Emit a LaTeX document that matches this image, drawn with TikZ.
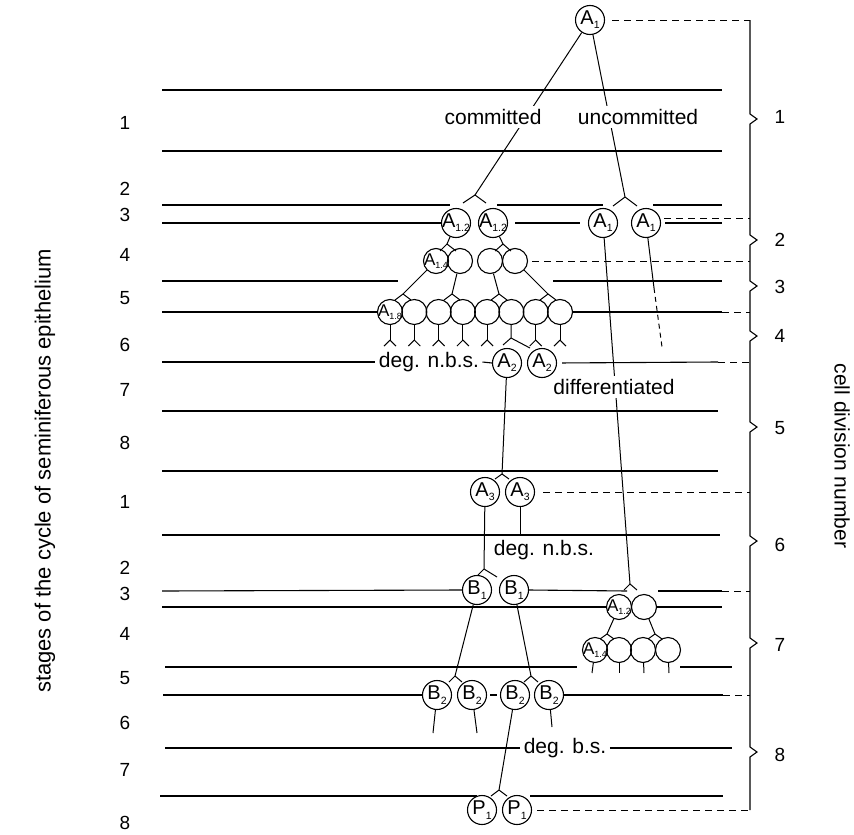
\documentclass[tikz,border=0pt]{standalone}
\usepackage{fontspec}
\setmainfont{Liberation Sans}
\newcommand\cn[2]{\makebox[0pt]{#1\raisebox{-0.4ex}{\fontsize{10.5}{10.5}\selectfont #2}}}
\newcommand\scn[2]{\makebox[0pt]{#1\raisebox{-0.4ex}{\fontsize{9}{9}\selectfont #2}}}
\newcommand\forkat[4]{\draw (#1) -- ++(-#2,#4) (#1) -- ++(#3,#4);}
\begin{document}
\begin{tikzpicture}[x=1pt,y=-1pt,line width=1pt,
  cell/.style={circle,draw,line width=1.1pt,minimum size=29pt,inner sep=0pt,font=\fontsize{20}{20}\selectfont},
  scell/.style={circle,draw,line width=1.1pt,minimum size=25pt,inner sep=0pt,font=\fontsize{17}{17}\selectfont},
  dline/.style={dash pattern=on 7pt off 5pt},
  lbl/.style={font=\fontsize{21}{21}\selectfont,inner sep=3pt,fill=white},
  num/.style={font=\fontsize{19}{19}\selectfont,inner sep=0pt},
]
\useasboundingbox (0,0) rectangle (854,835);

% ---------- cells ----------
\node[cell] (a1) at (590,20) {\cn{A}{1}};
\node[cell] (a12a) at (456,223) {\cn{A}{1.2}};
\node[cell] (a12b) at (493,223) {\cn{A}{1.2}};
\node[cell] (u1) at (603,223) {\cn{A}{1}};
\node[cell] (u2) at (646,223) {\cn{A}{1}};
\node[scell] (c41) at (436,261) {\scn{A}{1.4}};
\node[scell] (c42) at (460,261) {};
\node[scell] (c43) at (490,261) {};
\node[scell] (c44) at (515,261) {};
\node[scell] (c81) at (390,312) {\scn{A}{1.8}};
\foreach \i/\x in {2/414.3,3/438.6,4/462.9,5/487.1,6/511.4,7/535.7,8/560}
  \node[scell] (c8\i) at (\x,312) {};
\node[cell] (a2a) at (507,363) {\cn{A}{2}};
\node[cell] (a2b) at (542,363) {\cn{A}{2}};
\node[cell] (a3a) at (485,492) {\cn{A}{3}};
\node[cell] (a3b) at (520,492) {\cn{A}{3}};
\node[cell] (b1a) at (477,590) {\cn{B}{1}};
\node[cell] (b1b) at (514,590) {\cn{B}{1}};
\node[scell] (d12a) at (619,607) {\scn{A}{1.2}};
\node[scell] (d12b) at (644,607) {};
\node[scell] (d41) at (595,650) {\scn{A}{1.4}};
\node[scell] (d42) at (619,650) {};
\node[scell] (d43) at (643,650) {};
\node[scell] (d44) at (668,650) {};
\node[cell] (b2a) at (437,695) {\cn{B}{2}};
\node[cell] (b2b) at (472,695) {\cn{B}{2}};
\node[cell] (b2c) at (515,695) {\cn{B}{2}};
\node[cell] (b2d) at (549,695) {\cn{B}{2}};
\node[cell] (p1a) at (482,810) {\cn{P}{1}};
\node[cell] (p1b) at (517,810) {\cn{P}{1}};

% inline labels on stage lines
\node[lbl,fill=none] (dnbsa) at (429,362) {deg. n.b.s.};
\node[lbl,fill=none] (dbs) at (565,748) {deg. b.s.};
\node[lbl,fill=none] (dnbsb) at (544,550) {deg. n.b.s.};

% ---------- stage lines ----------
\begin{scope}[line width=1.1pt]
\draw (162,90) -- (722,90);
\draw (162,151) -- (722,151);
\draw (162,205) -- (450,205) (497,205) -- (603,205) (653,205) -- (722,205);
\draw (162,223) -- (a12a.west);
\draw[shorten <=7pt,shorten >=8pt] (a12b) -- (u1);
\draw (665,223) -- (722,223);
\draw (162,281) -- (398,281) (553,281) -- (722,281);
\draw (162,312) -- (c81.west);
\draw (c88.east) -- (722,312);
\draw (162,362) -- (dnbsa.west);
\draw (dnbsa.east) -- (a2a.west);
\draw[shorten <=5pt] (a2b.east) -- (718,362);
\draw (162,411) -- (718,411);
\draw (162,471) -- (718,471);
\draw (162,535) -- (720,535);
\draw (162,591) -- (b1a.west);
\draw (b1b.east) -- (627,591);
\draw (658,591) -- (722,591);
\draw (162,607) -- (d12a.west);
\draw (d12b.east) -- (722,607);
\draw (165,667) -- (577,667) (680,667) -- (732,667);
\draw (163,695) -- (b2a.west);
\draw[shorten <=3pt,shorten >=3pt] (b2b.east) -- (b2c.west);
\draw (b2d.east) -- (723,695);
\draw (165,748) -- (dbs.west);
\draw (dbs.east) -- (732,748);
\draw (160,796) -- (477,796) (530,796) -- (723,796);
\end{scope}

% dashed guides to the bracket
\draw[dline] (612,20) -- (750,20);
\draw[dline] (664,218) -- (750,218);
\draw[dline] (532,261) -- (750,261);
\draw[dline] (722,312) -- (750,312);
\draw[dline] (718,362) -- (750,362);
\draw[dline] (543,492) -- (750,492);
\draw[dline] (722,591) -- (750,591);
\draw[dline] (723,695) -- (750,695);
\draw[dline] (537,810) -- (750,810);

% bracket
\draw[line width=1.1pt,line join=miter] (750,20) -- (750,114) -- (757,119) -- (750,124)
  -- (750,235) -- (757,240) -- (750,245)
  -- (750,281) -- (757,286) -- (750,291)
  -- (750,331) -- (757,336) -- (750,341)
  -- (750,422) -- (757,427) -- (750,432)
  -- (750,536) -- (757,541) -- (750,546)
  -- (750,638) -- (757,643) -- (750,648)
  -- (750,747) -- (757,752) -- (750,757)
  -- (750,810);

% ---------- lineage connectors ----------
\coordinate (f1) at (475,195);
\draw (a1) -- (f1); \forkat{f1}{12}{11}{8}
\coordinate (f2) at (625,197);
\draw (a1) -- (f2); \forkat{f2}{12}{12}{9}
\node[lbl] (tcom) at (493,117) {committed};
\node[lbl] (tunc) at (638,117) {uncommitted};

\coordinate (f3) at (447,244);
\draw (a12a) -- (f3); \forkat{f3}{7}{9}{7}
\coordinate (f4) at (503,244);
\draw (a12b) -- (f4); \forkat{f4}{8}{8}{7}

\coordinate (f5) at (403,294);
\draw (c41) -- (f5); \forkat{f5}{8}{8}{6}
\coordinate (f6) at (452,294);
\draw (c42) -- (f6); \forkat{f6}{8}{8}{6}
\coordinate (f7) at (499,294);
\draw (c43) -- (f7); \forkat{f7}{8}{8}{6}
\coordinate (f8) at (548,294);
\draw (c44) -- (f8); \forkat{f8}{8}{8}{6}

\foreach \i in {1,2,3,4,5,7,8}{
  \path (c8\i.south) ++(0,15) coordinate (g\i);
  \draw (c8\i) -- (g\i); \forkat{g\i}{6}{6}{6}
}
\coordinate (g6) at (511,338);
\draw (c86) -- (g6);
\draw (g6) -- ++(-8,7) (g6) -- ++(19,10);

\coordinate (f9) at (502,474);
\draw (a2a) -- (f9); \forkat{f9}{7}{7}{5}

\coordinate (f10) at (630,584);
\draw (u1) -- (f10); \forkat{f10}{6}{7}{6}
\node[lbl] (tdif) at (614,387) {differentiated};

\coordinate (u2s) at (654,288);
\coordinate (u2e) at (662,347);
\draw (u2) -- (u2s);
\draw[dash pattern=on 5pt off 4pt] (u2s) -- (u2e);

\coordinate (f11) at (484,569);
\draw (a3a) -- (f11);
\draw (f11) -- ++(-6,6) (f11) -- ++(13,8);
\coordinate (a3e) at (520,535);
\draw (a3b) -- (a3e);

\coordinate (f12) at (455,676);
\draw (b1a) -- (f12); \forkat{f12}{6}{7}{6}
\coordinate (f13) at (531,676);
\draw (b1b) -- (f13); \forkat{f13}{7}{7}{6}

\coordinate (e1) at (433,733); \draw (b2a) -- (e1);
\coordinate (e2) at (477,733); \draw (b2b) -- (e2);
\coordinate (e4) at (552,727); \draw (b2d) -- (e4);
\coordinate (f14) at (499,790);
\draw (b2c) -- (f14); \forkat{f14}{8}{8}{6}

\coordinate (f15) at (607,634);
\draw (d12a) -- (f15); \forkat{f15}{7}{7}{5}
\coordinate (f16) at (655,634);
\draw (d12b) -- (f16); \forkat{f16}{7}{7}{5}
\coordinate (t1) at (592,673); \draw (d41) -- (t1);
\coordinate (t2) at (619,673); \draw (d42) -- (t2);
\coordinate (t3) at (644,673); \draw (d43) -- (t3);
\coordinate (t4) at (669,673); \draw (d44) -- (t4);

% ---------- axis labels ----------
\foreach \t/\y in {1/123,2/189,3/215,4/255,5/298,6/345,7/390,8/443,1/502,2/568,3/594,4/634,5/678,6/723,7/770,8/823}
  \node[num] (s\y) at (125,\y) {\t};
\foreach \t/\y in {1/117,2/240,3/287,4/336,5/428,6/545,7/645,8/755}
  \node[num] (r\t) at (780,\y) {\t};
\node[font=\fontsize{22}{22}\selectfont,rotate=90] (ylab) at (45,471) {stages of the cycle of seminiferous epithelium};
\node[font=\fontsize{21}{21}\selectfont,rotate=-90] (rlab) at (842,456) {cell division number};
\end{tikzpicture}
\end{document}
